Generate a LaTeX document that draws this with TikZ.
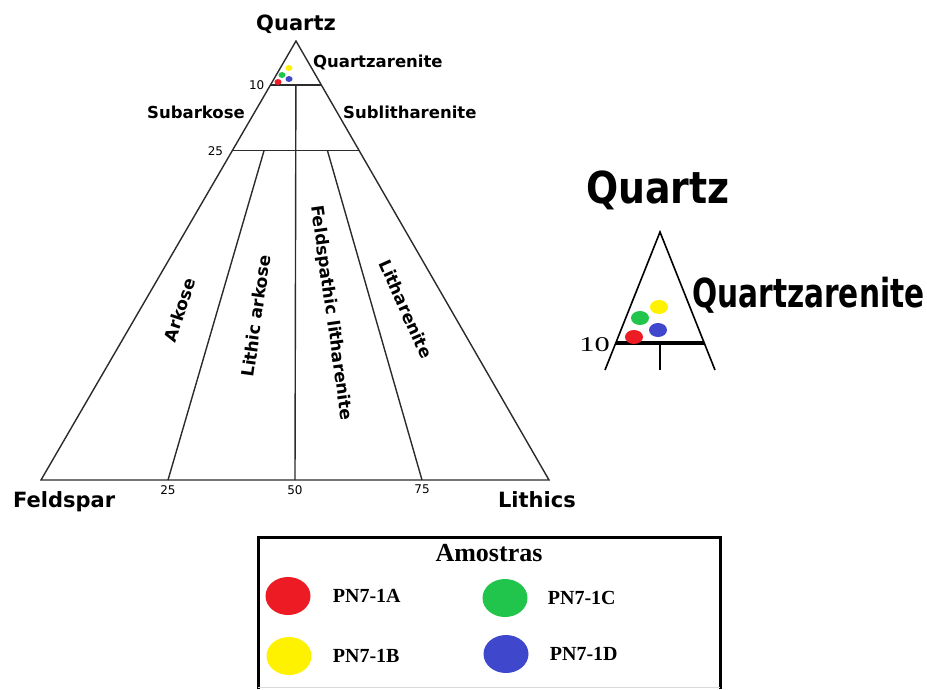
\documentclass[tikz,border=0pt]{standalone}
\usepackage{fontspec}
\setmainfont{DejaVu Sans}
\newfontfamily\serifkey{Liberation Serif}
\newfontfamily\insetwide{DejaVu Sans}[FakeStretch=0.86]
\newfontfamily\insetnarrow{DejaVu Sans}[FakeStretch=0.74]
\newfontfamily\insetnum{Liberation Serif}[FakeStretch=1.45]
\usepackage{tikz}
\usetikzlibrary{positioning,calc,shapes.geometric}
\definecolor{SampleRed}{HTML}{ED1C24}
\definecolor{SampleYellow}{HTML}{FFF200}
\definecolor{SampleGreen}{HTML}{22C54B}
\definecolor{SampleBlue}{HTML}{3F48CC}
\definecolor{EdgeGray}{HTML}{2B2B2B}

\begin{document}
\begin{tikzpicture}[x=1pt,y=-1pt,node distance=20pt]
\tikzstyle{edge}=[draw=EdgeGray,line width=1.4pt]
\tikzstyle{vtx}=[font=\bfseries\fontsize{21}{21}\selectfont,inner sep=0pt]
\tikzstyle{fld}=[font=\bfseries\fontsize{16.5}{16.5}\selectfont,inner sep=0pt]
\tikzstyle{zone}=[font=\bfseries\fontsize{17}{17}\selectfont,inner sep=0pt]
\tikzstyle{tck}=[font=\fontsize{12}{12}\selectfont,inner sep=0pt]
\tikzstyle{smp}=[ellipse,inner sep=0pt,minimum width=7pt,minimum height=6pt]
\tikzstyle{ismp}=[ellipse,inner sep=0pt,minimum width=18pt,minimum height=14pt]
\tikzstyle{key}=[ellipse,inner sep=0pt,minimum width=45pt,minimum height=38pt]
\tikzstyle{keytxt}=[font=\serifkey\bfseries\fontsize{20}{20}\selectfont,inner sep=0pt]
\useasboundingbox (0,0) rectangle (927,689);
% main QFL triangle
\coordinate (Q) at (296,41);
\coordinate (F) at (41,480);
\coordinate (L) at (549,480);
\coordinate (b25) at ($(F)!0.25!(L)$);
\coordinate (b50) at ($(F)!0.5!(L)$);
\coordinate (b75) at ($(F)!0.75!(L)$);
\coordinate (q10F) at ($(Q)!0.1!(F)$);
\coordinate (q10L) at ($(Q)!0.1!(L)$);
\coordinate (q25F) at ($(Q)!0.25!(F)$);
\coordinate (q25L) at ($(Q)!0.25!(L)$);
\draw[edge] (Q) -- (F) -- (L) -- cycle;
\draw[edge] (q10F) -- (q10L);
\draw[edge] (q25F) -- (q25L);
\draw[edge] ($(Q)!0.1!(b50)$) -- (b50);
\draw[edge] ($(Q)!0.25!(b25)$) -- (b25);
\draw[edge] ($(Q)!0.25!(b75)$) -- (b75);
\node[vtx,anchor=base] (qtz) at (296,30) {Quartz};
\node[vtx,anchor=base west] (fsp) at (13,507) {Feldspar};
\node[vtx,anchor=base east] (lth) at (576,507) {Lithics};
\node[fld,anchor=base west] (qa) at (313,67) {Quartzarenite};
\node[fld,anchor=base east] (sa) at (245,118) {Subarkose};
\node[fld,anchor=base west] (sl) at (343,118) {Sublitharenite};
\node[zone,rotate=72] (ak) at (180,310) {Arkose};
\node[zone,rotate=82] (la) at (256,316) {Lithic arkose};
\node[zone,rotate=-82] (fl) at (331,313) {Feldspathic litharenite};
\node[zone,rotate=-66] (lt) at (406,309) {Litharenite};
\node[tck,left=6pt of q10F] (t10) {10};
\node[tck,left=9pt of q25F] (t25) {25};
\node[tck,below=5pt of b25] (n25) {25};
\node[tck,below=5pt of b50] (n50) {50};
\node[tck,below=5pt of b75] (n75) {75};
\node[smp,fill=SampleYellow] (my) at (289,68) {};
\node[smp,fill=SampleGreen] (mg) at (282,75) {};
\node[smp,fill=SampleBlue] (mb) at (289,79) {};
\node[smp,fill=SampleRed] (mr) at (278,82) {};
% inset (zoom of the apex)
\coordinate (iQ) at (660,232);
\coordinate (iF) at (605,370);
\coordinate (iL) at (715,370);
\coordinate (i10F) at ($(iQ)!0.804!(iF)$);
\coordinate (i10L) at ($(iQ)!0.804!(iL)$);
\coordinate (i10M) at ($(i10F)!0.5!(i10L)$);
\draw[line width=1.6pt] (iF) -- (iQ) -- (iL);
\draw[line width=1.6pt] (i10M) -- (iF -| i10M);
\draw[line width=3.5pt] (i10F) -- (i10L);
\node[font=\insetwide\bfseries\fontsize{44}{44}\selectfont,anchor=base,inner sep=0pt]
  (iqtz) at (658,203) {Quartz};
\node[font=\insetnarrow\bfseries\fontsize{40}{40}\selectfont,anchor=base west,inner sep=0pt]
  (iqa) at (692,307) {Quartzarenite};
\node[font=\insetnum\fontsize{21}{21}\selectfont,anchor=base east,inner sep=0pt]
  (i10) at (610,351) {10};
\node[ismp,fill=SampleYellow] (iy) at (659,307) {};
\node[ismp,fill=SampleGreen] (ig) at (640,318) {};
\node[ismp,fill=SampleBlue] (ib) at (658,330) {};
\node[ismp,fill=SampleRed] (ir) at (634,337) {};
% legend
\draw[line width=3pt] (258,689) |- (720,537) -- (720,689);
\draw[black!15] (258,687.5) -- (720,687.5);
\node[font=\serifkey\bfseries\fontsize{26}{26}\selectfont,inner sep=0pt] (ttl) at (489,553) {Amostras};
\node[key,fill=SampleRed] (kA) at (288,596) {};
\node[keytxt,right=22pt of kA] (lA) {PN7-1A};
\node[key,fill=SampleYellow] (kB) at (289,656) {};
\node[keytxt,right=21pt of kB] (lB) {PN7-1B};
\node[key,fill=SampleGreen] (kC) at (505,598) {};
\node[keytxt,right=20pt of kC] (lC) {PN7-1C};
\node[key,fill=SampleBlue] (kD) at (506,654) {};
\node[keytxt,right=21pt of kD] (lD) {PN7-1D};
\end{tikzpicture}
\end{document}
